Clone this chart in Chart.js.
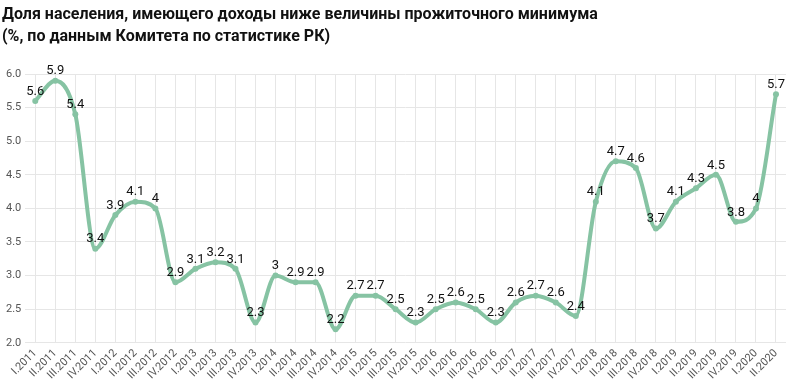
<!DOCTYPE html>
<html>
<head>
<meta charset="utf-8">
<script src="https://cdn.jsdelivr.net/npm/chart.js@4.4.0/dist/chart.umd.min.js"></script>
<style>
  html, body { margin: 0; padding: 0; background: #fff; }
  #wrap { width: 800px; height: 388px; }
</style>
</head>
<body>
<div id="wrap"><canvas id="povertyChart"></canvas></div>
<script>
/* quarters and share of population below subsistence minimum */

var quarters = [
  'I.2011', 'II.2011', 'III.2011', 'IV.2011',
  'I.2012', 'II.2012', 'III.2012', 'IV.2012',
  'I.2013', 'II.2013', 'III.2013', 'IV.2013',
  'I.2014', 'II.2014', 'III.2014', 'IV.2014',
  'I.2015', 'II.2015', 'III.2015', 'IV.2015',
  'I.2016', 'II.2016', 'III.2016', 'IV.2016',
  'I.2017', 'II.2017', 'III.2017', 'IV.2017',
  'I.2018', 'II.2018', 'III.2018', 'IV.2018',
  'I.2019', 'II.2019', 'III.2019', 'IV.2019',
  'I.2020', 'II.2020',
];

var share = [
  5.6, 5.9, 5.4, 3.4,
  3.9, 4.1, 4, 2.9,
  3.1, 3.2, 3.1, 2.3,
  3, 2.9, 2.9, 2.2,
  2.7, 2.7, 2.5, 2.3,
  2.5, 2.6, 2.5, 2.3,
  2.6, 2.7, 2.6, 2.4,
  4.1, 4.7, 4.6, 3.7,
  4.1, 4.3, 4.5, 3.8,
  4, 5.7,
];

var titleLines = [
  'Доля населения, имеющего доходы ниже величины прожиточного минимума',
  '(%, по данным Комитета по статистике РК)',
];

// values above the points
var pointLabels = {
  id: 'pointLabels',
  afterDatasetsDraw: function (chart) {
    var ctx = chart.ctx;
    var meta = chart.getDatasetMeta(0);
    ctx.save();
    ctx.font = '13px Roboto';
    ctx.fillStyle = '#111';
    ctx.textAlign = 'center';
    ctx.textBaseline = 'bottom';
    meta.data.forEach(function (pt, i) {
      ctx.fillText(String(share[i]), pt.x, pt.y - 3);
    });
    ctx.restore();
  },
};

var ctx = document.getElementById('povertyChart');

var povertyChart = new Chart(ctx, {
  type: 'line',
  data: {
    labels: quarters,
    datasets: [
      {
        data: share,
        borderColor: '#86c3a3',
        backgroundColor: '#86c3a3',
        borderWidth: 4,
        pointRadius: 3,
        pointBorderWidth: 0,
        pointHoverRadius: 3,
        cubicInterpolationMode: 'monotone',
        clip: false,
      },
    ],
  },
  options: {
    responsive: true,
    maintainAspectRatio: false,
    animation: false,
    layout: { padding: { left: 2, right: 14, top: 2, bottom: 2 } },
    plugins: {
      legend: { display: false },
      tooltip: { enabled: false },
      title: {
        display: true,
        text: titleLines,
        align: 'start',
        color: '#111',
        font: { family: 'Roboto', size: 16, weight: 'bold', lineHeight: 1.375 },
        padding: { top: 2, bottom: 26 },
      },
    },
    scales: {
      x: {
        offset: true,
        grid: { color: '#e6e6e6', offset: false, drawTicks: false },
        border: { display: false },
        ticks: {
          autoSkip: false,
          maxRotation: 45,
          minRotation: 45,
          padding: 4,
          color: '#555',
          font: { family: 'Roboto', size: 11 },
        },
      },
      y: {
        min: 2,
        max: 6,
        grid: { color: '#e6e6e6', drawTicks: false },
        border: { display: false },
        ticks: {
          stepSize: 0.5,
          padding: 4,
          color: '#555',
          font: { family: 'Roboto', size: 11 },
          callback: function (v) { return v.toFixed(1); },
        },
      },
    },
  },
  plugins: [pointLabels],
});
</script>
</body>
</html>
